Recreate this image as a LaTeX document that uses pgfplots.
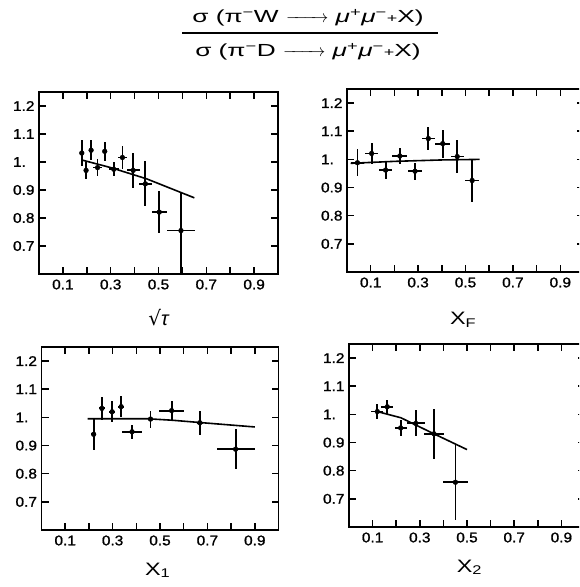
\documentclass[border=0pt]{standalone}
\usepackage{amsmath}
\usepackage{fontspec}
\setmainfont{Liberation Sans}
\newfontfamily\titlefont[FakeStretch=1.5]{Liberation Sans}
\newfontfamily\labfont[FakeStretch=1.3]{Liberation Sans}
\newfontfamily\tickfont[FakeStretch=1.1,FakeBold=1.2]{Liberation Sans}
\newfontfamily\dejavu{DejaVu Sans}
\usepackage{pgfplots}
\pgfplotsset{compat=1.18}
\pgfplotsset{
  panel/.style={
    scale only axis,
    xmin=0, xmax=1, ymin=0.6, ymax=1.25,
    xtick={0.1,0.2,0.3,0.4,0.5,0.6,0.7,0.8,0.9},
    xticklabels={\mbox{0.1},{},\mbox{0.3},{},\mbox{0.5},{},\mbox{0.7},{},\mbox{0.9}},
    ytick={0.7,0.8,0.9,1.0,1.1,1.2},
    yticklabels={\mbox{0.7},\mbox{0.8},\mbox{0.9},{\mbox{1.}\hphantom{0}},\mbox{1.1},\mbox{1.2}},
    tick align=inside,
    major tick length=7pt,
    minor tick num=0,
    axis line style={line width=1.8pt},
    every tick/.style={black, line width=1.5pt},
    ticklabel style={font=\tickfont\fontsize{14}{16}\selectfont},
    xticklabel style={yshift=-2pt},
    yticklabel style={xshift=-1pt},
    xlabel style={anchor=center},
  },
  dat/.style={only marks, mark=*, mark size=2.4pt, black,
    error bars/.cd, x dir=both, x explicit, y dir=both, y explicit,
    error mark=none, error bar style={line width=1.8pt, black}},
  fit/.style={black, line width=1.6pt, no marks},
}
\begin{document}
\begin{tikzpicture}
\useasboundingbox (0pt,0pt) rectangle (579pt,587pt);
\clip (0pt,0pt) rectangle (579pt,587pt);
% title
\node[font=\titlefont\fontsize{17.5}{19}\selectfont] at (308pt,569pt)
  {σ (π\textsuperscript{−}W $\xrightarrow{\hspace{33pt}}$ {\itshape μ}\textsuperscript{+}{\itshape μ}\textsuperscript{−}{\fontsize{12}{12}\selectfont +}X)};
\draw[line width=1.4pt] (182pt,554pt) -- (438pt,554pt);
\node[font=\titlefont\fontsize{17.5}{19}\selectfont] at (308pt,535pt)
  {σ (π\textsuperscript{−}D $\xrightarrow{\hspace{33pt}}$ {\itshape μ}\textsuperscript{+}{\itshape μ}\textsuperscript{−}{\fontsize{12}{12}\selectfont +}X)};

% panel 1
\begin{axis}[panel, at={(39pt,313pt)}, anchor=south west, width=239pt, height=182pt,
  xlabel={{\dejavu\fontsize{20}{22}\selectfont √}{\itshape\fontsize{20}{22}\selectfont τ}},
  xlabel style={at={(axis description cs:0.5,-0.24)}}]
\addplot[dat] coordinates {
 (0.179,1.032) +- (0.008,0.045)
 (0.197,0.970) +- (0.008,0.030)
 (0.218,1.042) +- (0.008,0.035)
 (0.245,0.980) +- (0.018,0.030)
 (0.275,1.038) +- (0.008,0.035)
 (0.313,0.974) +- (0.021,0.025)
 (0.349,1.016) +- (0.020,0.040)
 (0.394,0.970) +- (0.027,0.062)
 (0.445,0.922) +- (0.028,0.080)
 (0.503,0.821) +- (0.032,0.075)
 (0.594,0.755) += (0.060,0.134) -= (0.060,0.200)
};
\addplot[fit] coordinates {(0.180,1.007) (0.300,0.980) (0.450,0.940) (0.650,0.872)};
\end{axis}

% panel 2
\begin{axis}[panel, at={(347pt,315pt)}, anchor=south west, width=237pt, height=183pt,
  xlabel={\labfont\fontsize{18}{20}\selectfont X\textsubscript{F}},
  xlabel style={at={(axis description cs:0.49,-0.26)}}]
\addplot[dat] coordinates {
 (0.044,0.988) +- (0.026,0.048)
 (0.104,1.021) +- (0.027,0.037)
 (0.163,0.962) +- (0.028,0.033)
 (0.223,1.012) +- (0.032,0.030)
 (0.287,0.958) +- (0.028,0.030)
 (0.343,1.074) +- (0.028,0.040)
 (0.404,1.056) +- (0.032,0.050)
 (0.465,1.010) +- (0.028,0.060)
 (0.528,0.925) +- (0.030,0.075)
};
\addplot[fit] coordinates {(0.015,0.986) (0.200,0.993) (0.400,0.998) (0.560,1.000)};
\end{axis}

% panel 3
\begin{axis}[panel, at={(41.5pt,57pt)}, anchor=south west, width=237pt, height=183pt,
  xlabel={\labfont\fontsize{18}{20}\selectfont X\textsubscript{1}},
  xlabel style={at={(axis description cs:0.49,-0.22)}}]
\addplot[dat] coordinates {
 (0.220,0.940) +- (0.010,0.055)
 (0.255,1.032) +- (0.012,0.040)
 (0.298,1.020) +- (0.014,0.038)
 (0.336,1.038) +- (0.012,0.038)
 (0.382,0.949) +- (0.042,0.025)
 (0.460,0.994) +- (0.012,0.030)
 (0.549,1.024) +- (0.052,0.035)
 (0.668,0.981) +- (0.012,0.043)
 (0.819,0.887) +- (0.080,0.070)
};
\addplot[fit] coordinates {(0.195,0.995) (0.450,0.995) (0.550,0.990) (0.650,0.983) (0.900,0.966)};
\end{axis}

% panel 4
\begin{axis}[panel, at={(349pt,60pt)}, anchor=south west, width=236pt, height=183pt,
  xlabel={\labfont\fontsize{18}{20}\selectfont X\textsubscript{2}},
  xlabel style={at={(axis description cs:0.51,-0.22)}}]
\addplot[dat] coordinates {
 (0.120,1.010) +- (0.025,0.028)
 (0.162,1.027) +- (0.026,0.024)
 (0.219,0.952) +- (0.026,0.027)
 (0.283,0.968) +- (0.037,0.046)
 (0.360,0.931) +- (0.044,0.088)
 (0.451,0.759) +- (0.053,0.133)
};
\addplot[fit] coordinates {(0.120,1.010) (0.220,0.988) (0.350,0.935) (0.500,0.875)};
\end{axis}
\end{tikzpicture}
\end{document}
